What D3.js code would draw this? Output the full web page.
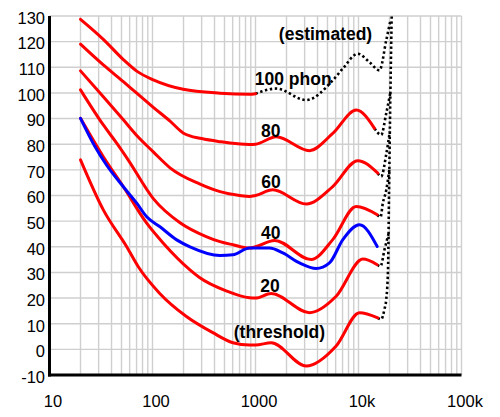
<!DOCTYPE html>
<html><head><meta charset="utf-8">
<script src="https://cdn.jsdelivr.net/npm/d3@7"></script>
<style>
html,body{margin:0;padding:0;background:#fff;}
svg{display:block;}
</style></head>
<body>
<svg id="chart" width="500" height="417"></svg>
<script>
// ---- data ----
const xTickValues = [10, 100, 1000, 10000, 100000];
const xTickLabels = ["10", "100", "1000", "10k", "100k"];
const yTickValues = [-10, 0, 10, 20, 30, 40, 50, 60, 70, 80, 90, 100, 110, 120, 130];

// equal-loudness contours (ISO 226:2003), [frequency Hz, SPL dB]
const phon100 = [[20,128.7],[33.3,120.9],[52.1,113.0],[70.3,108.5],[101.8,105.1],[199,101.4],[452,99.9],[874,99.5],[1000,99.7]];
const phon100Est = [[1000,99.7],[1589,101.7],[3105,97.2],[5623,104.9],[7050,109.5],[9840,115.3],[12790,112],[16000,108.8],[18580,120.5],[20500,128.5]];
const phon80 = [[20,119],[33.3,110.9],[52.1,104.4],[70.3,99.9],[101.8,94.4],[148,89.0],[200,84.3],[300,82.2],[452,81],[874,79.9],[1000,80],[1589,82.9],[3343,77.5],[5623,84.2],[9506,93.3],[14290,86.2]];
const phon80Est = [[14290,86.2],[16600,83.6],[18580,92],[20360,100]];
const phon60 = [[20,108.6],[33.3,98.5],[52.1,89.5],[70.3,83.4],[101.8,77.0],[148,70.8],[286,64.5],[452,61.5],[700,60],[874,59.6],[1000,60],[1472,62.2],[3105,56.7],[5623,63.5],[9840,73.6],[15390,68.7]];
const phon60Est = [[15390,68.7],[16600,67.4],[18580,76],[20160,85]];
const phon40 = [[20,101.2],[33.3,87.5],[44.9,80.4],[58,73.9],[101.8,58.8],[185,49.4],[332,44],[452,42],[603,40.8],[874,39.5],[1000,40],[1529,42.5],[3472,35],[5623,42.8],[9506,55.7],[15200,52.5]];
const phon40Est = [[15200,52.5],[16370,51.6],[17220,57],[18580,62],[19910,70]];
const phon20 = [[20,90.1],[33.3,75.1],[52.1,63.4],[87.8,49.2],[127.3,41.4],[231,31],[286,28],[519,22.8],[874,20.1],[1000,20],[1420,21.8],[3343,14.3],[6067,20.7],[11020,35.2],[15200,33]];
const phon20Est = [[15200,33],[16370,32.4],[17880,38.9],[19560,45]];
const threshold = [[20,73.9],[33.3,54.4],[56.2,40.0],[72.8,32.2],[117,21.9],[212,12.9],[385,6.5],[603,2.6],[874,1.7],[1000,1.7],[1420,2.6],[3105,-6.5],[6067,1.3],[10235,14.3],[15390,12.3]];
const thresholdEst = [[15390,12.3],[16600,11.7],[17880,15.7],[18580,19.4],[19340,31],[19780,60],[20230,90],[20590,110],[21010,130],[21200,136]];
// original ISO 40-phon curve (blue)
const iso40Original = [[20,90.1],[27.7,79.0],[35.9,71.8],[52.1,63.4],[70.3,57.0],[87.8,51.7],[118.2,47.8],[171.8,42.7],[231,40.0],[452,36.6],[603,36.9],[874,39.5],[1368,39.5],[1841,37.6],[2674,33.7],[3884,31.5],[5229,33.7],[7050,42.8],[10235,48.6],[15200,40.1]];

// labels: [text, frequency, dB, anchor]
const curveLabels = [
  ["(estimated)", 4786, 120.7, "middle"],
  ["100 phon", 985, 103, "start"],
  ["80", 1130, 82.7, "start"],
  ["60", 1140, 62.8, "start"],
  ["40", 1130, 43.0, "start"],
  ["20", 1110, 22.3, "start"],
  ["(threshold)", 615, 4.5, "start"]
];

// ---- drawing ----
const svg = d3.select("#chart");
const x = d3.scaleLog().domain([10, 100000]).range([49.5, 461.5]);
const y = d3.scaleLinear().domain([-10, 130]).range([375, 16]);

svg.append("defs").append("clipPath").attr("id","plotclip")
  .append("rect").attr("x", 49.5).attr("y", 14.5).attr("width", 413).attr("height", 362);

// grid
const vGrid = [];
for (let d = 10; d < 100000; d *= 10) for (let m = 1; m <= 9; m++) vGrid.push(d * m);
vGrid.push(100000);
const grid = svg.append("g").attr("stroke", "#cfcfcf").attr("stroke-width", 1.4);
grid.selectAll("line.v").data(vGrid.filter(v => v > 10)).join("line")
  .attr("class","v")
  .attr("x1", d => x(d)).attr("x2", d => x(d))
  .attr("y1", y(130)).attr("y2", y(-10));
grid.selectAll("line.h").data(yTickValues.filter(v => v > -10)).join("line")
  .attr("class","h")
  .attr("x1", x(10)).attr("x2", x(100000))
  .attr("y1", d => y(d)).attr("y2", d => y(d));

// curves
const smooth = d3.line().x(d => x(d[0])).y(d => y(d[1])).curve(d3.curveMonotoneX);
const plot = svg.append("g").attr("clip-path", "url(#plotclip)");

const dotted = [phon100Est, phon80Est, phon60Est, phon40Est, phon20Est, thresholdEst];
plot.selectAll("path.est").data(dotted).join("path")
  .attr("class","est")
  .attr("d", smooth).attr("fill","none")
  .attr("stroke","#000").attr("stroke-width", 2.6)
  .attr("stroke-dasharray","2.4,2.6");

const solid = [phon100, phon80, phon60, phon40, phon20, threshold];
plot.selectAll("path.red").data(solid).join("path")
  .attr("class","red")
  .attr("d", smooth).attr("fill","none")
  .attr("stroke","#ff0000").attr("stroke-width", 3)
  .attr("stroke-linecap","round");

plot.append("path").datum(iso40Original)
  .attr("d", smooth).attr("fill","none")
  .attr("stroke","#0000ff").attr("stroke-width", 3)
  .attr("stroke-linecap","round");

// axes lines
svg.append("line").attr("x1", x(10)).attr("x2", x(10)).attr("y1", y(130)).attr("y2", y(-10) + 1.5)
  .attr("stroke","#000").attr("stroke-width", 3);
svg.append("line").attr("x1", x(10) - 1.5).attr("x2", x(100000)).attr("y1", y(-10)).attr("y2", y(-10))
  .attr("stroke","#000").attr("stroke-width", 3);

// tick labels
const font = "'Liberation Sans', Arial, sans-serif";
svg.append("g").selectAll("text").data(yTickValues).join("text")
  .attr("x", 45).attr("y", d => y(d) + 7.8)
  .attr("text-anchor","end")
  .attr("font-family", font).attr("font-size", 16.5).attr("fill","#000")
  .text(d => d);
svg.append("g").selectAll("text").data(xTickValues).join("text")
  .attr("x", d => x(d) + 3.5).attr("y", 406.5)
  .attr("text-anchor","middle")
  .attr("font-family", font).attr("font-size", 16.5).attr("fill","#000")
  .text((d, i) => xTickLabels[i]);

// curve labels
svg.append("g").selectAll("text").data(curveLabels).join("text")
  .attr("x", d => x(d[1])).attr("y", d => y(d[2]))
  .attr("text-anchor", d => d[3])
  .attr("font-family", font).attr("font-weight","bold").attr("font-size", 17.5).attr("fill","#000")
  .text(d => d[0]);
</script>
</body></html>
